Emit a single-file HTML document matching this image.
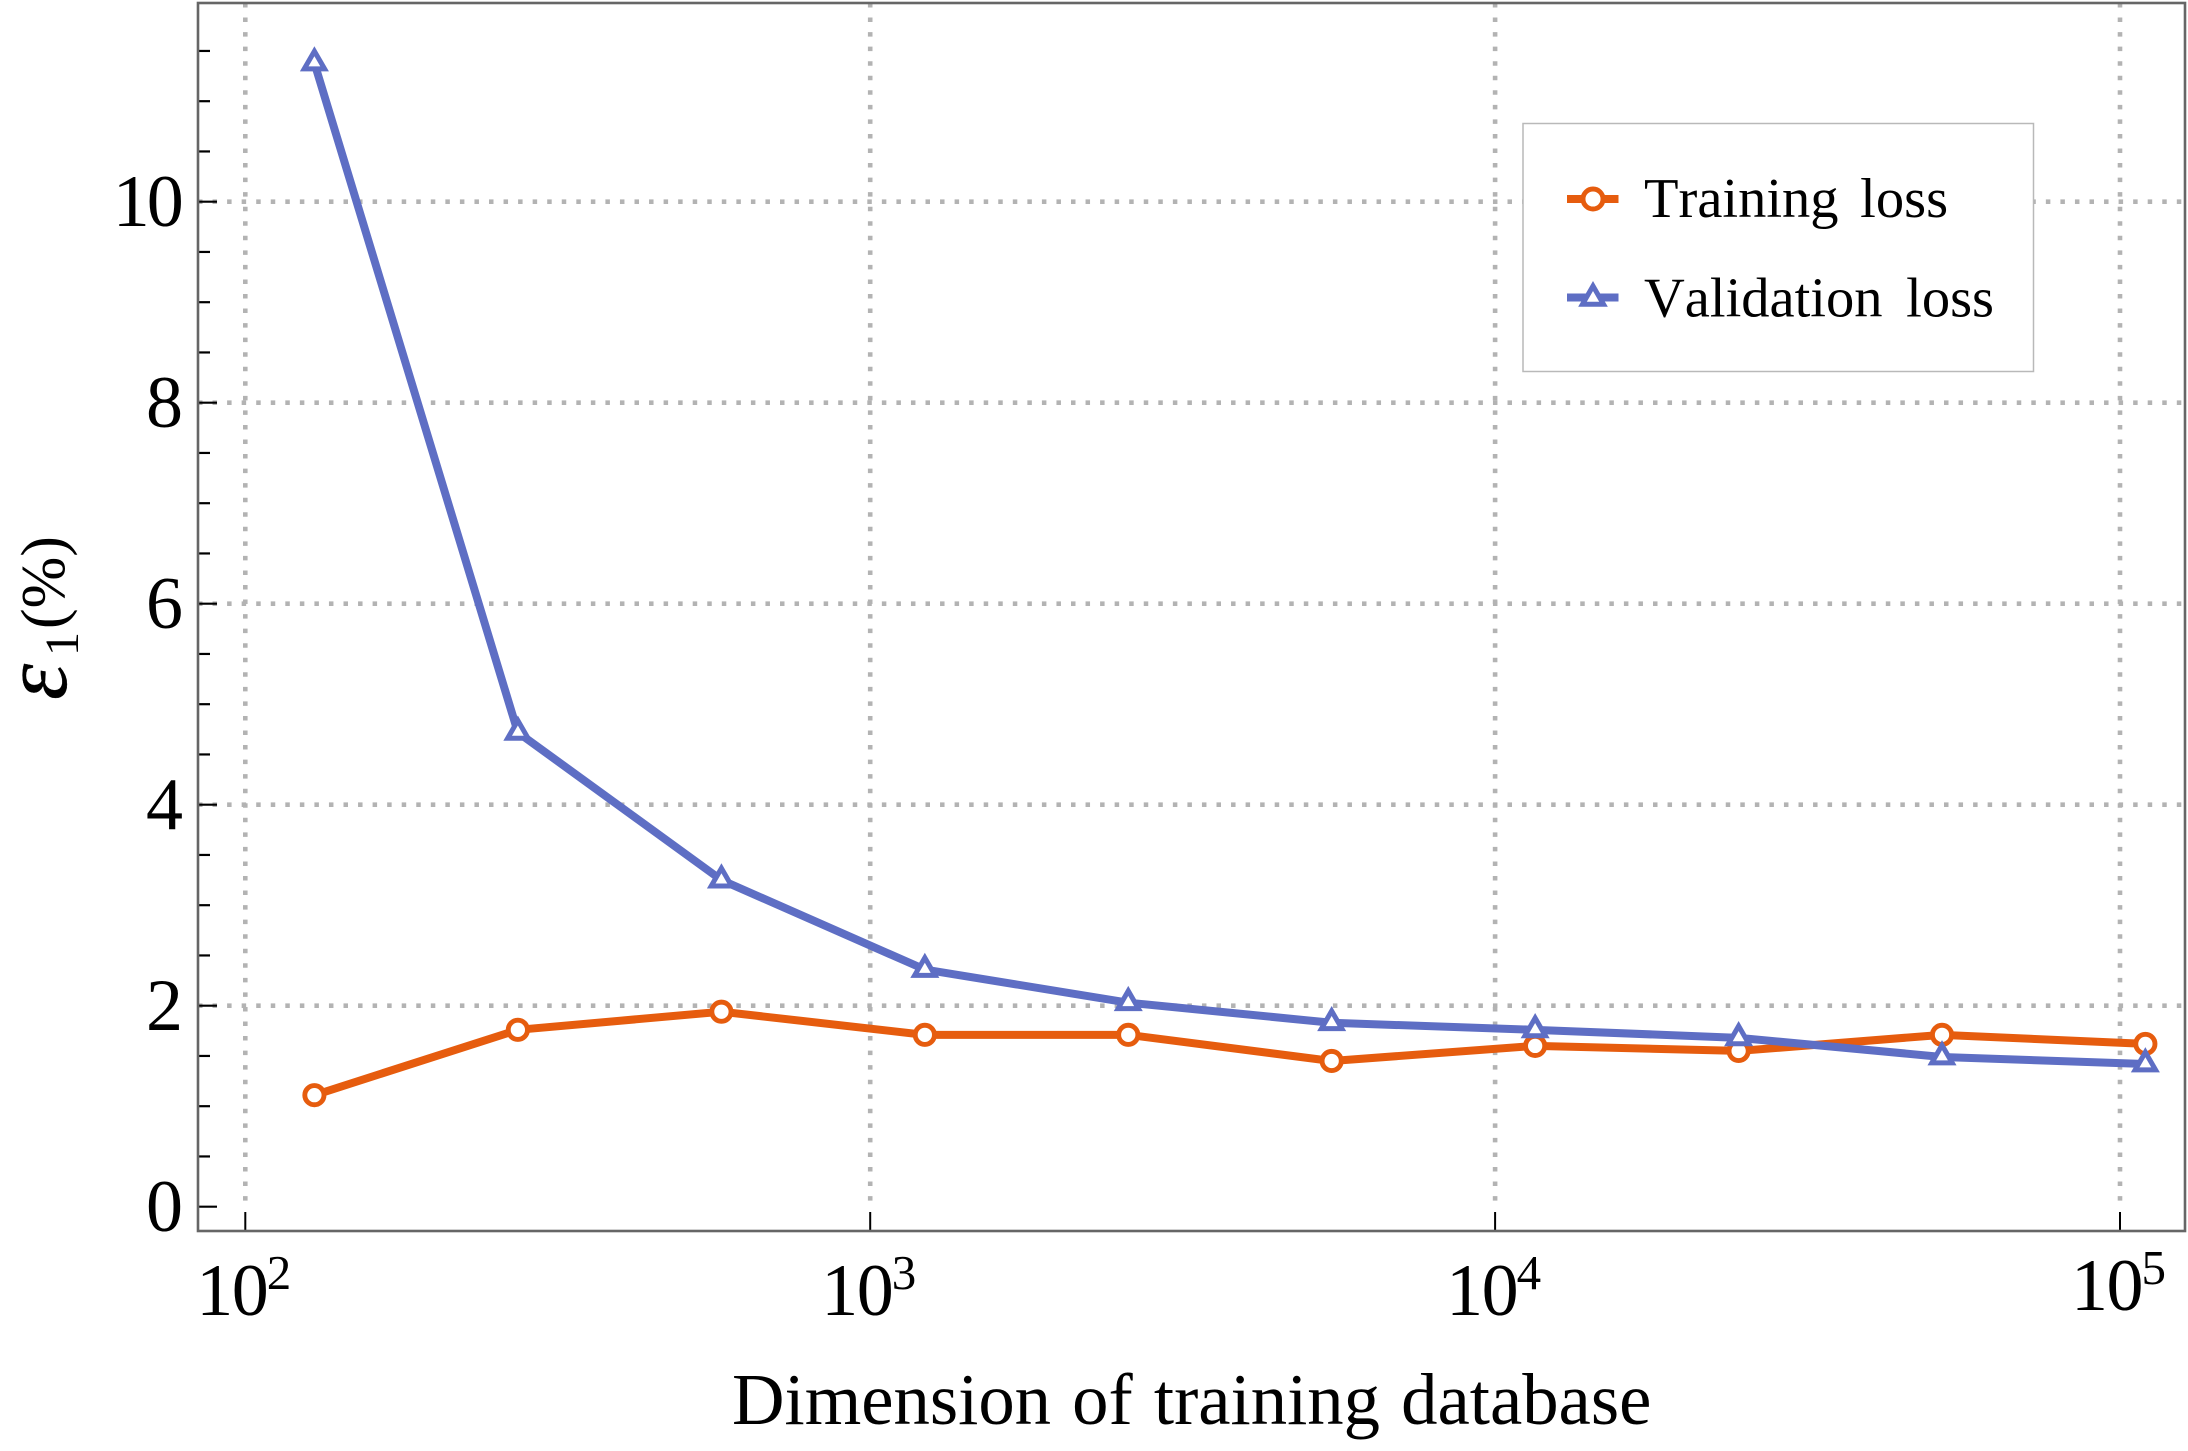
<!DOCTYPE html>
<html lang="en">
<head>
<meta charset="utf-8">
<title>Error vs dimension of training database</title>
<style>
html,body{margin:0;padding:0;background:#fff;}
svg{display:block;}
text{font-family:"Liberation Serif","DejaVu Serif",serif;fill:#000;font-kerning:none;}
</style>
</head>
<body>
<svg id="chart" xmlns="http://www.w3.org/2000/svg" width="2188" height="1451" viewBox="0 0 2188 1451">
  <rect x="0" y="0" width="2188" height="1451" fill="#ffffff"/>
  <g id="grid"></g>
  <g id="ticks"></g>
  <g id="series"></g>
  <rect x="198" y="3" width="1987" height="1228" fill="none" stroke="#666666" stroke-width="2.6"/>
  <g id="labels"></g>
  <text x="732" y="1424" font-size="72.7" word-spacing="3">Dimension of training database</text>
  <g>
    <text transform="translate(66 700) rotate(-90)" font-size="92" font-style="italic" stroke="#000" stroke-width="0.3">ε</text>
    <text transform="translate(78 656) rotate(-90)" font-size="48">1</text>
    <text transform="translate(64 629) rotate(-90)" font-size="62">(%)</text>
  </g>
  <g>
    <rect x="1523" y="123.5" width="510.5" height="248" fill="#ffffff" stroke="#b9b9b9" stroke-width="1.5"/>
    <g>
      <line x1="1567" x2="1618.5" y1="199" y2="199" stroke="#e65c0e" stroke-width="8"/>
      <circle cx="1593" cy="199" r="10" fill="#ffffff" stroke="#e65c0e" stroke-width="4.9"/>
      <text x="1644" y="217" font-size="56.5" word-spacing="7.5">Training loss</text>
    </g>
    <g>
      <line x1="1567" x2="1618.5" y1="297.5" y2="297.5" stroke="#5e6ec4" stroke-width="8"/>
      <path d="M1593 286 L1603.5 304.2 L1582.5 304.2 Z" fill="#ffffff" stroke="#5e6ec4" stroke-width="5"/>
      <text x="1644" y="316.5" font-size="56.5" word-spacing="9.5">Validation loss</text>
    </g>
  </g>
</svg>
<script>
// Chart data
const sampleSizes = [129, 273, 578, 1223, 2588, 5476, 11590, 24530, 51900, 109800];
const trainingLoss = [1.11, 1.76, 1.94, 1.71, 1.71, 1.45, 1.60, 1.55, 1.71, 1.62];
const validationLoss = [11.38, 4.72, 3.25, 2.36, 2.03, 1.83, 1.76, 1.68, 1.49, 1.42];
const yMajorTicks = [0, 2, 4, 6, 8, 10];
const yMinorTicks = [0.5, 1, 1.5, 2.5, 3, 3.5, 4.5, 5, 5.5, 6.5, 7, 7.5, 8.5, 9, 9.5, 10.5, 11, 11.5];
const xExponents = [2, 3, 4, 5];

const NS = 'http://www.w3.org/2000/svg';
function xScale(v) { return 245.3 + (Math.log10(v) - 2) * 624.9; }
function yScale(v) { return 1206.7 - v * 100.5; }
function make(tag, attrs, parent) {
  const el = document.createElementNS(NS, tag);
  for (const k in attrs) el.setAttribute(k, attrs[k]);
  parent.appendChild(el);
  return el;
}
const gridG = document.getElementById('grid');
const ticksG = document.getElementById('ticks');
const seriesG = document.getElementById('series');
const labelsG = document.getElementById('labels');
const gridStyle = { stroke: '#b3b3b3', 'stroke-width': 4.6, 'stroke-dasharray': '4.5 10.05', fill: 'none' };

yMajorTicks.forEach(function (v) {
  const y = yScale(v);
  if (v > 0) {
    const g = make('line', Object.assign({ x1: 198, x2: 2185, y1: y, y2: y }, gridStyle), gridG);
    
    
  }
  const t = make('line', { x1: 198, x2: 217, y1: y, y2: y, stroke: '#000', 'stroke-width': 2.2 }, ticksG);
  
  
  const wide = String(v).length > 1;
  const l = make('text', { x: wide ? 180.7 : 183, y: y + 24.3, 'font-size': 74, 'text-anchor': 'end', 'letter-spacing': wide ? -3 : 0 }, labelsG);
  l.textContent = String(v);
  
  
});

yMinorTicks.forEach(function (v) {
  const y = yScale(v);
  const t = make('line', { x1: 198, x2: 210, y1: y, y2: y, stroke: '#000', 'stroke-width': 2.2 }, ticksG);
  
  
});

xExponents.forEach(function (e) {
  const x = xScale(Math.pow(10, e));
  const g = make('line', Object.assign({ x1: x, x2: x, y1: 3, y2: 1208 }, gridStyle), gridG);
  
  
  const t = make('line', { x1: x, x2: x, y1: 1212, y2: 1231, stroke: '#000', 'stroke-width': 2 }, ticksG);
  
  
  const base = e === 5 ? 1310 : 1315;
  const b = make('text', { x: x - 49, y: base, 'font-size': 74, 'letter-spacing': -1.5 }, labelsG);
  b.textContent = '10';
  
  
  const s = make('text', { x: x + 21.5, y: base - 26, 'font-size': 49 }, labelsG);
  s.textContent = String(e);
  
  
});

function pointsFor(values) {
  return values.map(function (v, i) { return xScale(sampleSizes[i]) + ',' + yScale(v); }).join(' ');
}

const orangeLine = make('polyline', { points: pointsFor(trainingLoss), fill: 'none', stroke: '#e65c0e', 'stroke-width': 8, 'stroke-linejoin': 'round' }, seriesG);


trainingLoss.forEach(function (v, i) {
  const c = make('circle', { cx: xScale(sampleSizes[i]), cy: yScale(v), r: 9.6, fill: '#fff', stroke: '#e65c0e', 'stroke-width': 4.9 }, seriesG);
  
  
});

const blueLine = make('polyline', { points: pointsFor(validationLoss), fill: 'none', stroke: '#5e6ec4', 'stroke-width': 8, 'stroke-linejoin': 'round' }, seriesG);


validationLoss.forEach(function (v, i) {
  const x = xScale(sampleSizes[i]);
  const y = yScale(v);
  const d = 'M' + x + ' ' + (y - 11.8) + ' L' + (x + 10.2) + ' ' + (y + 5.9) + ' L' + (x - 10.2) + ' ' + (y + 5.9) + ' Z';
  const m = make('path', { d: d, fill: '#fff', stroke: '#5e6ec4', 'stroke-width': 5 }, seriesG);
  
  
});
</script>
</body>
</html>
